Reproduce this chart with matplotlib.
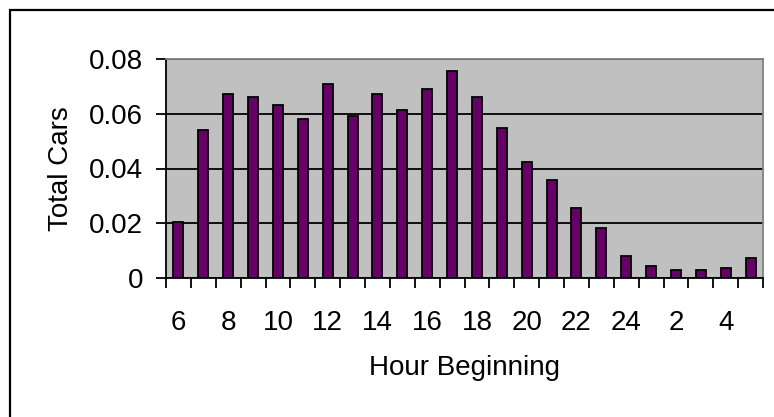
import numpy as np
import matplotlib.pyplot as plt
from matplotlib.patches import Rectangle

plt.rcParams['font.family'] = ['Liberation Sans', 'DejaVu Sans']

# hour beginning, 6am through 5am next day
hours = [6, 7, 8, 9, 10, 11, 12, 13, 14, 15, 16, 17, 18, 19, 20, 21, 22, 23, 24, 1, 2, 3, 4, 5]
total_cars = [0.0203, 0.0540, 0.0671, 0.0663, 0.0633, 0.0582, 0.0708, 0.0590, 0.0671, 0.0612,
              0.0692, 0.0757, 0.0663, 0.0547, 0.0422, 0.0357, 0.0254, 0.0181, 0.0079, 0.0043,
              0.0029, 0.0029, 0.0035, 0.0073]
y_ticks = [0, 0.02, 0.04, 0.06, 0.08]
y_labels = ['0', '0.02', '0.04', '0.06', '0.08']

fig = plt.figure(figsize=(7.74, 4.17), dpi=100)
ax = fig.add_axes([166/774, 1 - 278/417, (763 - 166)/774, (278 - 59)/417])

# outer chart border (only left and top edges fall inside the picture)
fig.patches.append(Rectangle((10/774, -0.2), 1.0, 1.2 - 10/417, transform=fig.transFigure,
                             fill=False, edgecolor='black', linewidth=1.6))

x = np.arange(len(hours))
ax.set_facecolor('#c0c0c0')
ax.bar(x, total_cars, width=0.4, color='#660066', edgecolor='black', linewidth=1.3, zorder=3)

ax.set_xlim(-0.5, len(hours) - 0.5)
ax.set_ylim(0, 0.08)
ax.set_yticks(y_ticks)
ax.set_yticklabels(y_labels)
ax.yaxis.grid(True, color='black', linewidth=1.3, zorder=1)
ax.set_axisbelow(True)

# ticks at category boundaries, labels every other hour
ax.set_xticks(np.arange(-0.5, len(hours), 1.0))
ax.set_xticklabels([])
ax.set_xticks(x[::2], minor=True)
ax.set_xticklabels([str(h) for h in hours[::2]], minor=True)
ax.tick_params(axis='x', which='major', length=7.5, width=1.3, direction='out')
ax.tick_params(axis='x', which='minor', length=0, pad=23, labelsize=20)
ax.tick_params(axis='y', length=7.5, width=1.3, pad=9, labelsize=20)

for side in ['left', 'bottom']:
    ax.spines[side].set_color('black')
    ax.spines[side].set_linewidth(1.3)
for side in ['top', 'right']:
    ax.spines[side].set_color('#808080')
    ax.spines[side].set_linewidth(1.3)

ax.set_xlabel('Hour Beginning', fontsize=20, labelpad=14)
ax.set_ylabel('Total Cars', fontsize=20, labelpad=11)

fig.savefig('out.png', dpi=100)
